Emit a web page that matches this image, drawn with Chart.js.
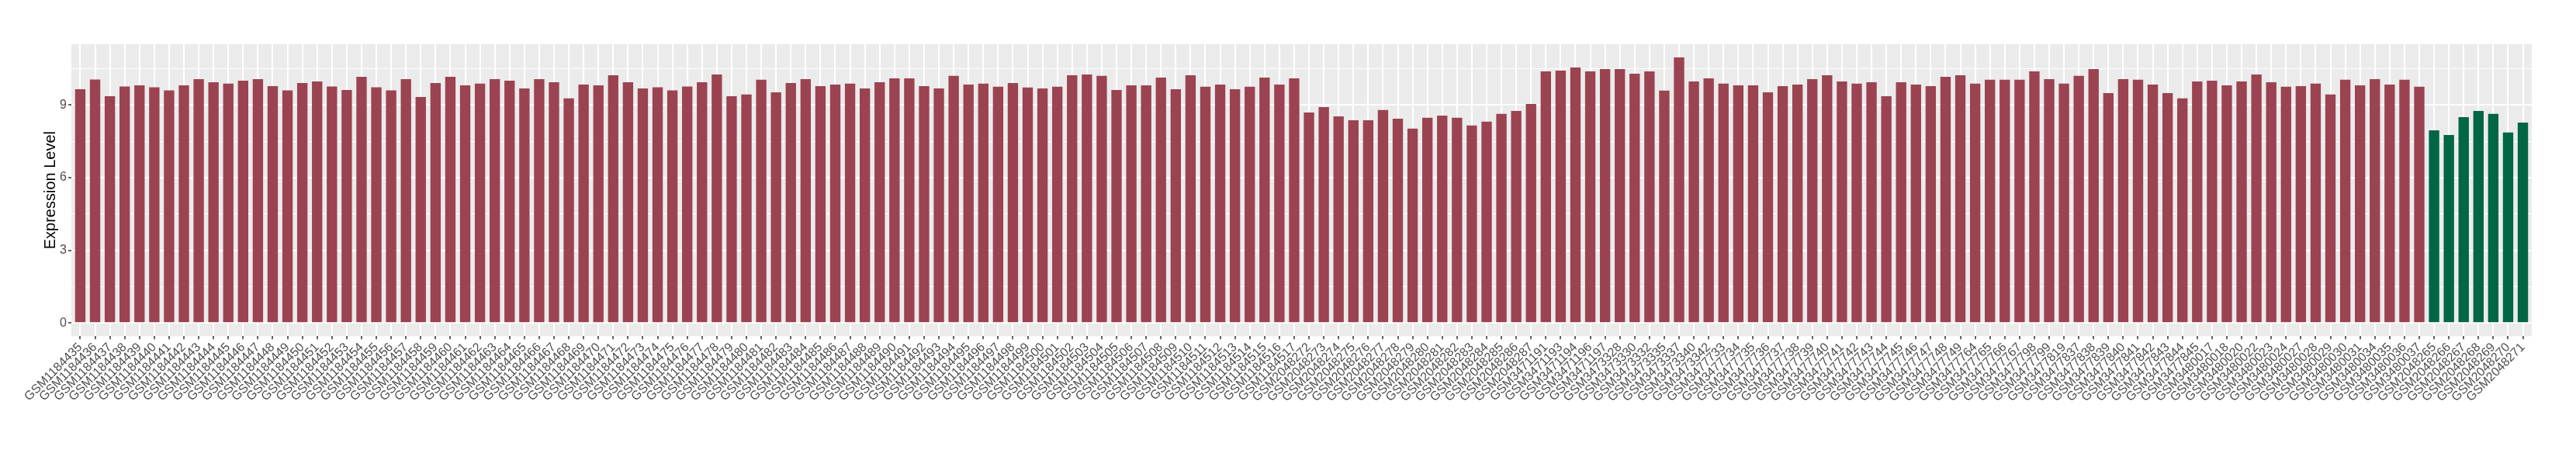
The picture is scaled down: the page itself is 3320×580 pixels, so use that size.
<!DOCTYPE html>
<html>
<head>
<meta charset="utf-8">
<script src="https://cdn.jsdelivr.net/npm/chart.js@4/dist/chart.umd.min.js"></script>
<style>
  html, body { margin: 0; padding: 0; background: #fff; }
  canvas { display: block; }
</style>
</head>
<body>
<canvas id="exprChart" width="3320" height="580"></canvas>
<script>
const sampleIds = [
    'GSM1184435','GSM1184436','GSM1184437','GSM1184438','GSM1184439','GSM1184440','GSM1184441','GSM1184442','GSM1184443','GSM1184444',
    'GSM1184445','GSM1184446','GSM1184447','GSM1184448','GSM1184449','GSM1184450','GSM1184451','GSM1184452','GSM1184453','GSM1184454',
    'GSM1184455','GSM1184456','GSM1184457','GSM1184458','GSM1184459','GSM1184460','GSM1184461','GSM1184462','GSM1184463','GSM1184464',
    'GSM1184465','GSM1184466','GSM1184467','GSM1184468','GSM1184469','GSM1184470','GSM1184471','GSM1184472','GSM1184473','GSM1184474',
    'GSM1184475','GSM1184476','GSM1184477','GSM1184478','GSM1184479','GSM1184480','GSM1184481','GSM1184482','GSM1184483','GSM1184484',
    'GSM1184485','GSM1184486','GSM1184487','GSM1184488','GSM1184489','GSM1184490','GSM1184491','GSM1184492','GSM1184493','GSM1184494',
    'GSM1184495','GSM1184496','GSM1184497','GSM1184498','GSM1184499','GSM1184500','GSM1184501','GSM1184502','GSM1184503','GSM1184504',
    'GSM1184505','GSM1184506','GSM1184507','GSM1184508','GSM1184509','GSM1184510','GSM1184511','GSM1184512','GSM1184513','GSM1184514',
    'GSM1184515','GSM1184516','GSM1184517',
    'GSM2048272','GSM2048273','GSM2048274','GSM2048275','GSM2048276','GSM2048277','GSM2048278','GSM2048279',
    'GSM2048280','GSM2048281','GSM2048282','GSM2048283','GSM2048284','GSM2048285','GSM2048286','GSM2048287',
    'GSM3471191','GSM3471193','GSM3471194','GSM3471196','GSM3471197',
    'GSM3473328','GSM3473330','GSM3473332','GSM3473335','GSM3473337','GSM3473340','GSM3473342',
    'GSM3477733','GSM3477734','GSM3477735','GSM3477736','GSM3477737','GSM3477738','GSM3477739','GSM3477740','GSM3477741',
    'GSM3477742','GSM3477743','GSM3477744','GSM3477745','GSM3477746','GSM3477747','GSM3477748','GSM3477749',
    'GSM3477764','GSM3477765','GSM3477766','GSM3477767','GSM3477798','GSM3477799','GSM3477819',
    'GSM3477837','GSM3477838','GSM3477839','GSM3477840','GSM3477841','GSM3477842','GSM3477843','GSM3477844','GSM3477845',
    'GSM3480017','GSM3480018','GSM3480020','GSM3480022','GSM3480023','GSM3480024','GSM3480027','GSM3480028',
    'GSM3480029','GSM3480030','GSM3480031','GSM3480034','GSM3480035','GSM3480036','GSM3480037',
    'GSM2048265','GSM2048266','GSM2048267','GSM2048268','GSM2048269','GSM2048270','GSM2048271'
];

const expression = [
    9.65, 10.05, 9.36, 9.76, 9.81, 9.73, 9.60, 9.81, 10.07, 9.94,
    9.88, 10.00, 10.07, 9.78, 9.60, 9.91, 9.97, 9.76, 9.62, 10.16,
    9.73, 9.60, 10.07, 9.33, 9.91, 10.16, 9.81, 9.88, 10.07, 10.00,
    9.68, 10.07, 9.94, 9.27, 9.84, 9.81, 10.23, 9.94, 9.68, 9.73,
    9.60, 9.76, 9.94,
    10.26, 9.36, 9.43, 10.04, 9.52, 9.91, 10.07, 9.78, 9.84, 9.88,
    9.68, 9.94, 10.10, 10.10, 9.78, 9.68, 10.20, 9.84, 9.88, 9.75,
    9.91, 9.72, 9.68, 9.75, 10.23, 10.26, 10.20, 9.62, 9.81, 9.81,
    10.13, 9.65, 10.23, 9.75, 9.84, 9.65, 9.75, 10.13, 9.84, 10.10,
    8.69, 8.91, 8.53,
    8.37, 8.37, 8.79, 8.43, 8.02, 8.47, 8.56, 8.47, 8.15, 8.31,
    8.63, 8.75, 9.04, 10.39, 10.42, 10.55, 10.39, 10.48, 10.48, 10.29,
    10.39, 9.59, 10.96, 9.97, 10.10, 9.88, 9.81, 9.81, 9.52, 9.78,
    9.84, 10.07, 10.23, 9.97, 9.88, 9.94, 9.36, 9.94, 9.84, 9.78,
    10.16, 10.23, 9.88,
    10.04, 10.04, 10.04, 10.39, 10.07, 9.88, 10.20, 10.48, 9.49, 10.07,
    10.04, 9.84, 9.49, 9.27, 9.97, 10.00, 9.81, 9.97, 10.26, 9.94,
    9.75, 9.78, 9.88, 9.43, 10.04, 9.81, 10.07, 9.84, 10.04, 9.75,
    7.95, 7.76, 8.50, 8.75, 8.63, 7.86, 8.27
];

// samples drawn in green
const controlSamples = ['GSM2048265','GSM2048266','GSM2048267','GSM2048268','GSM2048269','GSM2048270','GSM2048271'];

const yMajorTicks = [0, 3, 6, 9];
const yMinorTicks = [1.5, 4.5, 7.5, 10.5];

const caseColor = '#9B4351';
const controlColor = '#016643';
const fontFamily = "'Liberation Sans', Arial, sans-serif";

const panelBg = {
    id: 'panelBg',
    beforeDraw(chart) {
        const a = chart.chartArea;
        const c = chart.ctx;
        c.save();
        c.fillStyle = '#EBEBEB';
        c.fillRect(a.left, a.top, a.right - a.left, a.bottom - a.top);
        c.restore();
    }
};

const isMajor = v => yMajorTicks.includes(v);

new Chart(document.getElementById('exprChart').getContext('2d'), {
    type: 'bar',
    data: {
        datasets: [{
            label: 'Expression Level',
            data: expression.map((v, i) => ({ x: i, y: v })),
            backgroundColor: sampleIds.map(id => controlSamples.includes(id) ? controlColor : caseColor),
            borderWidth: 0,
            barPercentage: 0.7,
            categoryPercentage: 1.0
        }]
    },
    options: {
        responsive: false,
        devicePixelRatio: 1,
        animation: false,
        layout: { padding: { top: 57, right: 57, left: 0, bottom: 0 } },
        plugins: {
            legend: { display: false },
            tooltip: { enabled: false }
        },
        scales: {
            x: {
                type: 'linear',
                offset: false,
                min: -0.6,
                max: sampleIds.length - 1 + 0.6,
                afterBuildTicks: scale => {
                    scale.ticks = sampleIds.map((_, i) => ({ value: i }));
                },
                afterFit: scale => { scale.height = 146.7; },
                border: { display: false },
                grid: {
                    offset: false,
                    color: '#FFFFFF',
                    lineWidth: 2,
                    tickColor: '#333333',
                    tickWidth: 1.5,
                    tickLength: 4
                },
                ticks: {
                    autoSkip: false,
                    minRotation: 45,
                    maxRotation: 45,
                    padding: 1,
                    color: '#4D4D4D',
                    font: { family: fontFamily, size: 16 },
                    callback: v => sampleIds[v]
                }
            },
            y: {
                min: -0.548,
                max: 11.508,
                afterBuildTicks: scale => {
                    scale.ticks = yMajorTicks.concat(yMinorTicks).sort((a, b) => a - b).map(v => ({ value: v }));
                },
                afterFit: scale => { scale.width = 92; },
                border: { display: false },
                grid: {
                    color: '#FFFFFF',
                    lineWidth: ctx => isMajor(ctx.tick.value) ? 2 : 1,
                    tickColor: ctx => isMajor(ctx.tick.value) ? '#333333' : 'rgba(0,0,0,0)',
                    tickWidth: 1.5,
                    tickLength: 4
                },
                ticks: {
                    padding: 2,
                    color: '#4D4D4D',
                    font: { family: fontFamily, size: 16 },
                    callback: v => isMajor(v) ? String(v) : ''
                },
                title: {
                    display: true,
                    text: 'Expression Level',
                    color: '#000000',
                    font: { family: fontFamily, size: 20 },
                    padding: { top: 53, bottom: 0 }
                }
            }
        }
    },
    plugins: [panelBg]
});
</script>
</body>
</html>
